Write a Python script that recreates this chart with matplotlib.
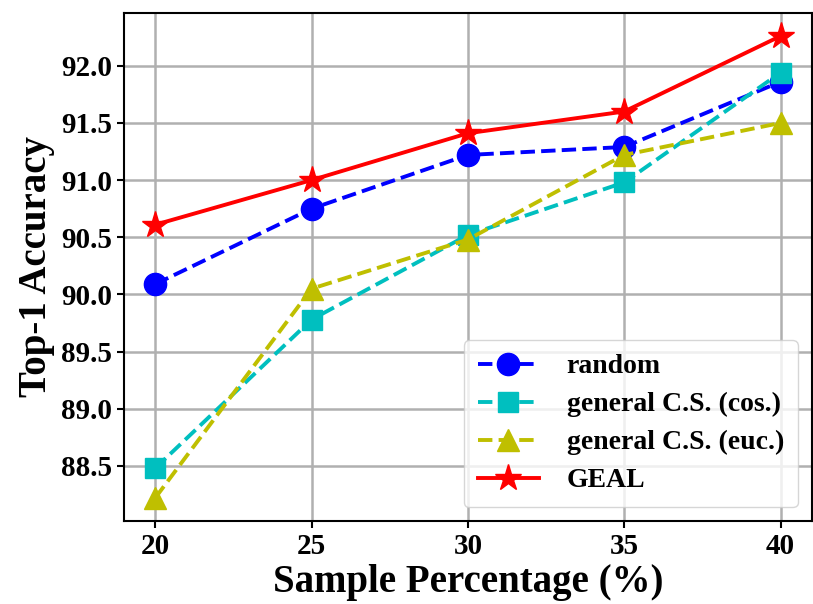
import matplotlib
matplotlib.use('Agg')
import matplotlib.pyplot as plt

# Dane
procent = [20, 25, 30, 35, 40]
random_acc = [90.09, 90.75, 91.22, 91.29, 91.86]
cos_acc = [88.48, 89.78, 90.52, 90.98, 91.94]
euc_acc = [88.22, 90.05, 90.48, 91.22, 91.50]
geal_acc = [90.61, 91.00, 91.41, 91.60, 92.26]

plt.rcParams['font.family'] = ['Liberation Serif', 'DejaVu Serif']
plt.rcParams['font.weight'] = 'bold'

fig = plt.figure(figsize=(8.13, 6.04), dpi=100)
ax = fig.add_axes([0.1525, 0.1374, 0.846, 0.8411])

ax.plot(procent, random_acc, 'b--', marker='o', markersize=16, linewidth=2.8, label='random')
ax.plot(procent, cos_acc, 'c--', marker='s', markersize=15, linewidth=2.8, label='general C.S. (cos.)')
ax.plot(procent, euc_acc, 'y--', marker='^', markersize=16, linewidth=2.8, label='general C.S. (euc.)')
ax.plot(procent, geal_acc, 'r-', marker='*', markersize=20, linewidth=2.8, label='GEAL')

ax.set_xticks(procent)
ax.set_yticks([88.5, 89.0, 89.5, 90.0, 90.5, 91.0, 91.5, 92.0])
ax.tick_params(labelsize=21, width=1.5, length=5)
ax.grid(True, color='#b0b0b0', linewidth=1.8)
ax.set_axisbelow(True)
for s in ax.spines.values():
    s.set_linewidth(1.5)

ax.set_xlabel('Sample Percentage (%)', fontsize=28, fontweight='bold', labelpad=3)
ax.set_ylabel('Top-1 Accuracy', fontsize=28, fontweight='bold', labelpad=4)

ax.legend(loc='lower right', fontsize=20, handlelength=2.2, borderpad=0.5,
          labelspacing=0.45, handletextpad=1.0)

fig.savefig('out.png', dpi=100)
